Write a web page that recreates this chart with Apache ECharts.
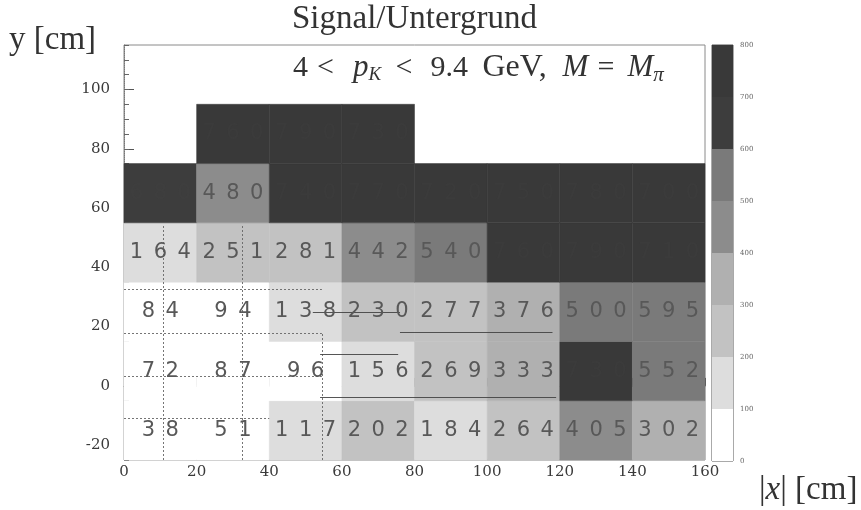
<!DOCTYPE html>
<html>
<head>
<meta charset="utf-8">
<script src="https://cdn.jsdelivr.net/npm/echarts@6/dist/echarts.min.js"></script>
<style>
  html, body { margin: 0; padding: 0; background: #fff; }
  #chart { width: 861px; height: 510px; }
</style>
</head>
<body>
<div id="chart"></div>
<script>
// Bin edges in cm
const xEdges = [0, 20, 40, 60, 80, 100, 120, 140, 160];
const yEdges = [-25, -5, 15, 35, 55, 75, 95];

// Signal/background per |x| bin, one array per y band (bottom to top); null = empty bin
const rowM25 = [38, 51, 117, 202, 184, 264, 405, 302];
const rowM5  = [72, 87, 96, 156, 269, 333, 730, 552];
const row15  = [84, 94, 138, 230, 277, 376, 500, 595];
const row35  = [164, 251, 281, 442, 540, 760, 790, 710];
const row55  = [680, 480, 740, 770, 720, 750, 780, 700];
const row75  = [null, 760, 790, 730, null, null, null, null];
const rows = [rowM25, rowM5, row15, row35, row55, row75];

// Axis tick labels
const xTicks = [0, 20, 40, 60, 80, 100, 120, 140, 160];
const yTicks = [-20, 0, 20, 40, 60, 80, 100];

// Colour scale: level boundaries and grey per band
const scaleLevels = [0, 100, 200, 300, 400, 500, 600, 700, 800];
const scaleGrays = ['#ffffff', '#dddddd', '#c2c2c2', '#b0b0b0', '#8c8c8c', '#7a7a7a', '#3d3d3d', '#393939'];

// Detector outline segments [x1, y1, x2, y2] in cm
const dottedGuides = [
  [10.7, -25, 10.7, 54], [32.5, -25, 32.5, 54], [54.5, -25, 54.5, 18],
  [0, 32.5, 54.5, 32.5], [0, 17.7, 54.5, 17.7], [0, 3.4, 54.5, 3.4], [0, -10.8, 40, -10.8]
];
const solidGuides = [
  [52, 25, 76, 25], [76, 18, 118, 18], [54, 10.8, 75.5, 10.8], [54, -4, 119, -4]
];

function grayFor(v) {
  for (let i = scaleLevels.length - 2; i >= 0; i--) {
    if (v >= scaleLevels[i]) return scaleGrays[i];
  }
  return scaleGrays[0];
}

// Flatten bins into [x0, y0, x1, y1, value]
const cells = [];
rows.forEach((row, j) => {
  row.forEach((v, i) => {
    if (v === null) return;
    cells.push([xEdges[i], yEdges[j], xEdges[i + 1], yEdges[j + 1], v]);
  });
});

// Colour bar segments
const barSeries = scaleGrays.map((g, i) => ({
  type: 'bar',
  xAxisIndex: 1,
  yAxisIndex: 2,
  stack: 'scale',
  barWidth: '100%',
  silent: true,
  itemStyle: { color: g },
  data: [scaleLevels[i + 1] - scaleLevels[i]]
}));

const serif = '"Liberation Serif"';
const tickFont = 'DejaVu Serif';
const ink = '#333';

const chart = echarts.init(document.getElementById('chart'), null, { renderer: 'canvas' });

chart.setOption({
  animation: false,
  backgroundColor: '#ffffff',
  grid: [
    { left: 124, right: 156, top: 45, bottom: 50, show: true, borderColor: '#8a8a8a', borderWidth: 1, backgroundColor: '#fff' },
    { left: 712, width: 21, top: 45, bottom: 49, show: true, borderColor: '#555', borderWidth: 1 }
  ],
  xAxis: [
    {
      type: 'value', gridIndex: 0, min: 0, max: 160, interval: 20,
      axisLine: { show: true, lineStyle: { color: '#777', type: 'dotted' } },
      axisTick: { inside: true, length: 8, lineStyle: { color: '#555' } },
      minorTick: { show: true, splitNumber: 4, length: 4, lineStyle: { color: '#666' } },
      axisLabel: { fontFamily: tickFont, fontSize: 15, color: '#3a3a3a', margin: 5, customValues: xTicks },
      splitLine: { show: false }
    },
    { type: 'category', gridIndex: 1, data: [''], show: false }
  ],
  yAxis: [
    {
      type: 'value', gridIndex: 0, min: -25, max: 115, interval: 5,
      axisLine: { show: true, lineStyle: { color: '#777', type: 'dotted' } },
      axisTick: { inside: true, length: 10, lineStyle: { color: '#555' }, customValues: yTicks },
      axisLabel: { fontFamily: tickFont, fontSize: 15, color: '#3a3a3a', margin: 14, customValues: yTicks },
      splitLine: { show: false }
    },
    {
      type: 'value', gridIndex: 0, min: -25, max: 115, interval: 5, position: 'left',
      axisLine: { show: false },
      axisTick: { inside: true, length: 5, lineStyle: { color: '#666' } },
      axisLabel: { show: false },
      splitLine: { show: false }
    },
    {
      type: 'value', gridIndex: 1, min: 0, max: 800, interval: 100, position: 'right',
      axisLine: { show: false },
      axisTick: { show: false },
      axisLabel: { fontFamily: tickFont, fontSize: 7, color: '#666', margin: 7 },
      splitLine: { show: false }
    }
  ],
  series: [
    {
      type: 'custom',
      xAxisIndex: 0,
      yAxisIndex: 0,
      silent: true,
      data: cells,
      renderItem: function (params, api) {
        const v = api.value(4);
        const p0 = api.coord([api.value(0), api.value(3)]);
        const p1 = api.coord([api.value(2), api.value(1)]);
        const fill = grayFor(v);
        const dark = v >= 600;
        const digits = String(v).split('').join('\u2002');
        return {
          type: 'rect',
          shape: { x: p0[0], y: p0[1], width: p1[0] - p0[0], height: p1[1] - p0[1] },
          style: { fill: fill, stroke: fill, lineWidth: 0.5 },
          textContent: {
            style: {
              text: digits,
              fill: dark ? 'rgba(72,72,72,0.15)' : '#585858',
              font: '21px "DejaVu Sans"'
            }
          },
          textConfig: { position: 'inside' }
        };
      }
    },
    {
      type: 'lines',
      coordinateSystem: 'cartesian2d',
      xAxisIndex: 0,
      yAxisIndex: 0,
      silent: true,
      lineStyle: { color: '#666', width: 1, type: [2, 2], opacity: 0.9 },
      data: dottedGuides.map(s => ({ coords: [[s[0], s[1]], [s[2], s[3]]] }))
    },
    {
      type: 'lines',
      coordinateSystem: 'cartesian2d',
      xAxisIndex: 0,
      yAxisIndex: 0,
      silent: true,
      lineStyle: { color: '#444', width: 1.2, opacity: 0.9 },
      data: solidGuides.map(s => ({ coords: [[s[0], s[1]], [s[2], s[3]]] }))
    }
  ].concat(barSeries),
  graphic: [
    {
      type: 'text', left: 292, top: 3,
      style: { text: 'Signal/Untergrund', font: '33px ' + serif, fill: ink }
    },
    {
      type: 'text', left: 9, top: 24,
      style: { text: 'y [cm]', font: '33px ' + serif, fill: ink }
    },
    {
      type: 'text', left: 293, top: 52,
      style: {
        text: '{a4|4}{lt|<}{i|p}{sk|K}{lt2|<}{num|9.4}{gev|GeV,}{m|M}{eq|=}{i|M}{s|\u03c0}',
        rich: {
          a4: { font: '30px ' + serif, fill: ink, width: 24 },
          lt: { font: '30px ' + serif, fill: ink, width: 36 },
          lt2: { font: '30px ' + serif, fill: ink, width: 35 },
          num: { font: '30px ' + serif, fill: ink, width: 52 },
          gev: { font: '32px ' + serif, fill: ink, width: 80 },
          eq: { font: '30px ' + serif, fill: ink, width: 30 },
          i: { font: 'italic 31px ' + serif, fill: ink },
          m: { font: 'italic 31px ' + serif, fill: ink, width: 35 },
          sk: { font: 'italic 19px ' + serif, fill: ink, width: 27, padding: [14, 0, 0, 0] },
          s: { font: 'italic 21px ' + serif, fill: ink, padding: [14, 0, 0, 0] }
        }
      }
    },
    {
      type: 'text', left: 759, top: 474,
      style: {
        text: '{a||}{i|x}{a|| [cm]}',
        rich: {
          a: { font: '33px ' + serif, fill: ink },
          i: { font: 'italic 33px ' + serif, fill: ink }
        }
      }
    }
  ]
});
</script>
</body>
</html>
